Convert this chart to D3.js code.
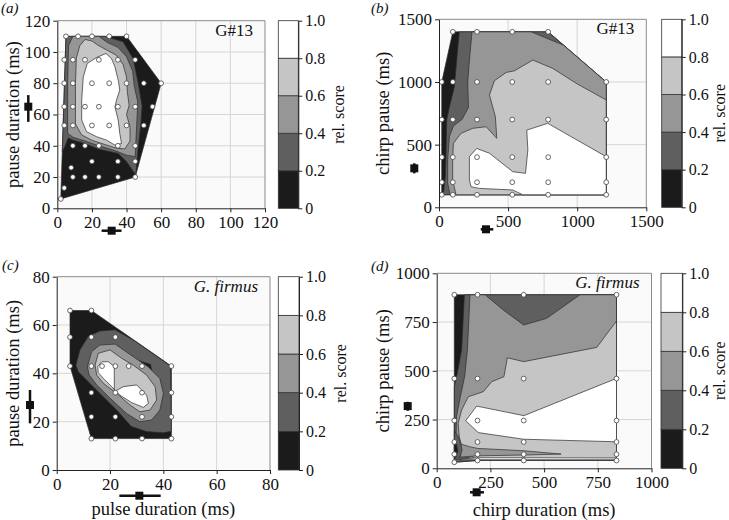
<!DOCTYPE html>
<html>
<head>
<meta charset="utf-8">
<script src="https://cdn.jsdelivr.net/npm/d3@7"></script>
<style>
  body { margin: 0; background: #fff; }
  svg { display: block; }
  svg text { font-family: "Liberation Serif", "Times New Roman", "DejaVu Serif", serif; }
</style>
</head>
<body>
<svg id="fig" width="729" height="520"></svg>
<script>
// ---- shared data ----
const levelColors = ["#1b1b1b", "#5f5f5f", "#969696", "#c5c5c5", "#ffffff"];
const barTicks = [0, 0.2, 0.4, 0.6, 0.8, 1.0];
const barTickLabels = ["0", "0.2", "0.4", "0.6", "0.8", "1.0"];

// ---- panel a : G#13, pulse duration vs pause duration ----
const aTicksX = [0, 20, 40, 60, 80, 100, 120];
const aTicksY = [0, 20, 40, 60, 80, 100, 120];
const aPoints = [
  [5,110],[12,110],[20,110],[30,110],[40,110],
  [4,95],[9,95],[16,95],[24,95],[35,95],[45,95],
  [4,80],[9,80],[20,80],[30,80],[40,80],[50,80],[60,80],
  [4,65],[9,65],[16,65],[24,65],[35,65],[45,65],[55,65],
  [4,53],[9,53],[20,53],[30,53],[40,53],[50,53],
  [9,40],[16,40],[24,40],[35,40],[45,40],
  [20,30],[35,30],[45,30],[8,26],
  [9,20],[16,20],[24,20],[35,20],[45,20],
  [4,13],[2,6]
];
const aBands = [
  {level: 0, pts: [[2,6],[5,110],[40,110],[60,80],[45,20]]},
  {level: 1, pts: [[2.9,36],[3.6,60],[5,110],[27.5,110],[38,106.5],[43.8,95.8],[46.7,80.3],[49,65.4],[48.2,53.2],[46.7,38.3],[45.3,21.5],[40,29.8],[35.2,35.1],[23.6,37.9],[16,41.5],[9.2,43.6],[6.3,45],[4.5,40]]},
  {level: 2, pts: [[6,48],[6,80],[6.5,104],[9,110],[24,110],[29,106],[35,103],[40,97],[43.5,88],[44.5,78],[46.5,68],[46,56],[45.5,45],[45,33],[40,34],[33,37],[24,40],[16,43],[9,45.5]]},
  {level: 3, pts: [[10.5,54],[10.5,80],[11,96],[13,104],[16,108],[20,107],[24,104],[29,101],[34,98],[38,92],[40,84],[40.5,74],[41.5,66],[40,60],[42,52],[42,43],[39,38],[34,38.5],[27,41],[20,43.5],[14,47]]},
  {level: 4, pts: [[15,84],[17.3,92.6],[22.7,96.5],[28.1,99],[31.3,95.8],[33.3,90.5],[35.2,82],[36.1,75.6],[34.2,69.2],[33.3,64.9],[35.2,56.4],[36.1,47.9],[37.1,41.5],[33.3,40.4],[28.5,43.6],[22.7,45.8],[16.9,49],[14.1,56.4],[14.1,69.2]]}
];
const aSongX = [25.6, 31.4, 37.1];   // low, mean, high
const aSongY = [55.3, 65, 72.4];

// ---- panel b : G#13, chirp duration vs chirp pause ----
const bTicksX = [0, 500, 1000, 1500];
const bTicksY = [0, 500, 1000, 1500];
const bPoints = [
  [100,1400],[275,1400],[530,1400],[790,1400],
  [20,1000],[100,1000],[275,1000],[530,1000],[790,1000],[1210,1000],
  [20,700],[100,700],[275,700],[530,700],[790,700],[1210,700],
  [20,400],[100,400],[275,400],[530,400],[790,400],[1210,400],
  [20,200],[100,200],[275,200],[530,200],[790,200],[1210,200],
  [20,100],[100,100],[275,100],[530,100],[790,100],[1210,100]
];
const bBands = [
  {level: 0, pts: [[20,100],[20,1000],[100,1400],[790,1400],[1210,1000],[1210,100]]},
  {level: 1, pts: [[31,100],[46,245],[51,430],[56,696],[75,800],[111,960],[128,1175],[147,1400],[790,1400],[1210,1000],[1210,100]]},
  {level: 2, pts: [[80,100],[63,191],[63,377],[75,563],[104,648],[167,702],[213,797],[208,1000],[220,1175],[239,1400],[667,1400],[900,1294],[1210,1000],[1210,100]]},
  {level: 3, pts: [[123,100],[99,218],[99,377],[104,510],[159,590],[244,630],[341,643],[418,550],[408,723],[365,896],[401,1010],[486,1076],[546,1089],[679,1175],[824,1108],[993,989],[1210,856],[1210,100]]},
  {level: 4, pts: [[220,404],[273,470],[365,431],[534,284],[626,271],[643,457],[635,616],[787,670],[1210,404],[1210,100],[606,100],[534,138],[292,151],[232,164],[220,218]]}
];
const bSongX = [302, 340, 393];
const bSongY = [271, 311, 351];

// ---- panel c : G. firmus, pulse duration vs pause duration ----
const cTicksX = [0, 20, 40, 60, 80];
const cTicksY = [0, 20, 40, 60, 80];
const cPoints = [
  [5,66],[13,66],
  [5,55],[13,55],[22,55],
  [5,43],[13,43],[17,43],[22,43],[27,43],[32,43],[43,43],
  [13,32],[22,32],[32,32],[43,32],
  [13,22],[22,22],[32,22],[43,22],
  [13,13],[22,13],[32,13],[43,13]
];
const cBands = [
  {level: 0, pts: [[5,66],[13,66],[43,43],[43,13],[13,13],[5,43]]},
  {level: 1, pts: [[7.2,43.4],[8.7,49.7],[11.9,55.4],[16.2,57.5],[21.9,58],[28.7,53.8],[35,49],[42.7,43],[43,16],[40,15.4],[33.7,15.9],[28,18],[22.5,24.8],[16.2,31.7],[11.2,37.2],[8.1,40.7]]},
  {level: 0, pts: [[29.1,45.9],[35.2,43.7],[36.2,38.4],[32.5,41.4]]},
  {level: 2, pts: [[11.5,42.7],[13.1,49],[16.2,51.7],[21.9,52.1],[28.7,46.9],[34.3,42.7],[38.7,37.9],[40,31.7],[38.7,24.8],[35.6,20.7],[31.2,20],[26.2,23.4],[20,29.7],[15,35.2],[12.2,39.3]]},
  {level: 3, pts: [[14.4,43.4],[15.6,48.3],[20,49.7],[24.4,46.2],[28.7,43.4],[33.7,39.3],[36.9,34.5],[37.5,29],[35,24.8],[31.2,24.1],[27.5,26.9],[22.5,31.7],[17.5,35.9],[15,39.3]]},
  {level: 4, pts: [[15.4,42.8],[16.9,44.8],[19.4,44.8],[21.6,42.8],[21.6,32.4],[25,34.5],[30,35.2],[33.7,31],[34.4,27.6],[32.5,25.9],[28.1,27.9],[23.7,31],[20.6,34.5],[17.5,37.9],[15.6,40.3]]}
];
const cSongX = [23.5, 31, 39];
const cSongY = [19.3, 26.9, 33.1];

// ---- panel d : G. firmus, chirp duration vs chirp pause ----
const dTicksX = [0, 250, 500, 750, 1000];
const dTicksY = [0, 250, 500, 750, 1000];
const dPoints = [
  [82,890],[190,890],[405,890],[837,890],
  [82,460],[190,460],[405,460],[837,460],
  [82,245],[190,245],[405,245],[837,245],
  [82,135],[190,135],[405,135],[837,135],
  [82,72],[190,72],[405,72],[837,72],
  [82,31],[190,40],[405,40],[837,40]
];
const dBands = [
  {level: 0, pts: [[82,31],[82,890],[837,890],[837,40],[190,40]]},
  {level: 1, pts: [[129,890],[837,890],[837,40],[190,40],[82,31],[96,55],[102,95],[96,140],[82,160],[82,419],[96,487],[116,607]]},
  {level: 2, pts: [[155,890],[225,890],[310,812],[405,735],[512,769],[667,890],[837,890],[837,40],[189,40],[130,60],[100,94],[90,162],[92,265],[110,367],[130,470],[143,607]]},
  {level: 3, pts: [[837,755],[745,620],[405,547],[329,567],[313,470],[256,444],[217,393],[147,367],[116,299],[100,231],[105,162],[120,94],[160,65],[189,40],[837,40]]},
  {level: 4, pts: [[837,461],[406,270],[186,319],[135,244],[194,183],[405,149],[837,136]]},
  {level: 2, pts: [[110,125],[152,111],[191,102],[405,90],[579,73],[405,68],[191,64],[121,58],[100,60]]},
  {level: 1, pts: [[82,190],[100,165],[112,130],[118,95],[110,62],[82,35]]},
  {level: 0, pts: [[82,150],[92,125],[98,90],[92,62],[82,45]]},
  {level: 4, pts: [[105,44],[405,44],[837,44],[837,53],[405,54],[190,54],[120,48]]}
];
const dSongX = [155, 186, 220];
const dSongY = [295, 319, 341];

// ---- layout ----
const svg = d3.select("#fig");
const fmt = d3.format("d");

function styleAxis(a, size) {
  a.attr("font-family", null).attr("font-size", size);
  a.selectAll("path,line").attr("stroke", "#222");
  a.selectAll("text").attr("fill", "#111");
}

function drawPanel(L, D) {
  const x = d3.scaleLinear().domain(d3.extent(D.xTicks)).range([L.left, L.right]);
  const y = d3.scaleLinear().domain(d3.extent(D.yTicks)).range([L.bottom, L.top]);
  const g = svg.append("g");

  g.append("rect")
    .attr("x", L.left).attr("y", L.top)
    .attr("width", L.right - L.left).attr("height", L.bottom - L.top)
    .attr("fill", "#fafafa");

  // grid
  g.append("g").selectAll("line").data(D.xTicks.slice(1, -1)).join("line")
    .attr("x1", d => x(d)).attr("x2", d => x(d))
    .attr("y1", L.top).attr("y2", L.bottom)
    .attr("stroke", "#d6d6d6");
  g.append("g").selectAll("line").data(D.yTicks.slice(1, -1)).join("line")
    .attr("y1", d => y(d)).attr("y2", d => y(d))
    .attr("x1", L.left).attr("x2", L.right)
    .attr("stroke", "#d6d6d6");

  // contour bands
  const ring = d3.line().x(d => x(d[0])).y(d => y(d[1])).curve(d3.curveLinearClosed);
  g.append("g").selectAll("path").data(D.bands).join("path")
    .attr("d", d => ring(d.pts))
    .attr("fill", d => levelColors[d.level])
    .attr("stroke", "#2b2b2b")
    .attr("stroke-width", 0.7)
    .attr("stroke-linejoin", "round");

  // tested stimuli
  g.append("g").selectAll("circle").data(D.points).join("circle")
    .attr("cx", d => x(d[0])).attr("cy", d => y(d[1]))
    .attr("r", 2.4)
    .attr("fill", "#fff").attr("stroke", "#444").attr("stroke-width", 0.8);

  // frame top/right
  g.append("path")
    .attr("d", `M${L.left},${L.top}H${L.right}V${L.bottom}`)
    .attr("fill", "none").attr("stroke", "#8a8a8a");

  // axes
  const xa = g.append("g").attr("transform", `translate(0,${L.bottom})`)
    .call(d3.axisBottom(x).tickValues(D.xTicks).tickFormat(fmt).tickSize(4).tickSizeOuter(0).tickPadding(4));
  const ya = g.append("g").attr("transform", `translate(${L.left},0)`)
    .call(d3.axisLeft(y).tickValues(D.yTicks).tickFormat(fmt).tickSize(4).tickSizeOuter(0).tickPadding(3));
  styleAxis(xa, 17);
  styleAxis(ya, 17);

  // natural song markers
  g.append("line")
    .attr("x1", x(D.songX[0])).attr("x2", x(D.songX[2]))
    .attr("y1", L.songXy).attr("y2", L.songXy)
    .attr("stroke", "#111").attr("stroke-width", 2.5);
  g.append("rect")
    .attr("x", x(D.songX[1]) - 4).attr("y", L.songXy - 4)
    .attr("width", 8).attr("height", 8).attr("fill", "#111");
  g.append("line")
    .attr("y1", y(D.songY[0])).attr("y2", y(D.songY[2]))
    .attr("x1", L.songYx).attr("x2", L.songYx)
    .attr("stroke", "#111").attr("stroke-width", 2.5);
  g.append("rect")
    .attr("x", L.songYx - 4).attr("y", y(D.songY[1]) - 4)
    .attr("width", 8).attr("height", 8).attr("fill", "#111");

  // titles
  g.append("text")
    .attr("transform", `translate(${L.yTitleX},${(L.top + L.bottom) / 2}) rotate(-90)`)
    .attr("text-anchor", "middle").attr("dominant-baseline", "central")
    .attr("font-size", 18.5).attr("fill", "#111")
    .text(D.yTitle);
  if (D.xTitle) {
    g.append("text")
      .attr("x", (L.left + L.right) / 2).attr("y", L.xTitleY)
      .attr("text-anchor", "middle")
      .attr("font-size", 18.5).attr("fill", "#111")
      .text(D.xTitle);
  }
  g.append("text")
    .attr("x", L.right - 12).attr("y", L.top + 15)
    .attr("text-anchor", "end")
    .attr("font-size", 17).attr("fill", "#111")
    .attr("font-style", D.speciesItalic ? "italic" : "normal")
    .text(D.species);
  g.append("text")
    .attr("x", L.tagX).attr("y", L.tagY)
    .attr("font-size", 15).attr("font-style", "italic").attr("fill", "#111")
    .text(D.tag);

  // colour bar
  const cy = d3.scaleLinear().domain([0, 1]).range([L.bottom, L.top]);
  const cb = g.append("g");
  cb.selectAll("rect").data(levelColors).join("rect")
    .attr("x", L.barX).attr("width", L.barW)
    .attr("y", (c, i) => cy(barTicks[i + 1]))
    .attr("height", (c, i) => cy(barTicks[i]) - cy(barTicks[i + 1]))
    .attr("fill", c => c)
    .attr("stroke", "#333").attr("stroke-width", 0.8);
  const ca = cb.append("g").attr("transform", `translate(${L.barX + L.barW},0)`)
    .call(d3.axisRight(cy).tickValues(barTicks).tickFormat((d, i) => barTickLabels[i])
      .tickSize(4).tickSizeOuter(0).tickPadding(3));
  styleAxis(ca, 16);
  cb.append("text")
    .attr("transform", `translate(${L.relX},${(L.top + L.bottom) / 2}) rotate(-90)`)
    .attr("text-anchor", "middle").attr("dominant-baseline", "central")
    .attr("font-size", 16).attr("fill", "#111")
    .text("rel. score");
}

drawPanel(
  {left: 57.3, right: 265, top: 20.7, bottom: 208.3, barX: 278.3, barW: 20, relX: 338,
   yTitleX: 13, songYx: 28.3, songXy: 230.7, tagX: 1, tagY: 13},
  {xTicks: aTicksX, yTicks: aTicksY, points: aPoints, bands: aBands, songX: aSongX, songY: aSongY,
   yTitle: "pause duration (ms)", species: "G#13", speciesItalic: false, tag: "(a)"});

drawPanel(
  {left: 439, right: 646.3, top: 19.3, bottom: 207.3, barX: 661.7, barW: 20, relX: 719.5,
   yTitleX: 383, songYx: 414.3, songXy: 229.3, tagX: 371, tagY: 13},
  {xTicks: bTicksX, yTicks: bTicksY, points: bPoints, bands: bBands, songX: bSongX, songY: bSongY,
   yTitle: "chirp pause (ms)", species: "G#13", speciesItalic: false, tag: "(b)"});

drawPanel(
  {left: 56.7, right: 270, top: 276.7, bottom: 470, barX: 278.3, barW: 20.7, relX: 340,
   yTitleX: 13, songYx: 30, songXy: 495.7, xTitleY: 515, tagX: 2, tagY: 270},
  {xTicks: cTicksX, yTicks: cTicksY, points: cPoints, bands: cBands, songX: cSongX, songY: cSongY,
   yTitle: "pause duration (ms)", xTitle: "pulse duration (ms)", species: "G. firmus", speciesItalic: true, tag: "(c)"});

drawPanel(
  {left: 436.7, right: 651.5, top: 273.3, bottom: 468.3, barX: 661, barW: 21.3, relX: 719.5,
   yTitleX: 383, songYx: 407.7, songXy: 492.3, xTitleY: 516, tagX: 371, tagY: 271},
  {xTicks: dTicksX, yTicks: dTicksY, points: dPoints, bands: dBands, songX: dSongX, songY: dSongY,
   yTitle: "chirp pause (ms)", xTitle: "chirp duration (ms)", species: "G. firmus", speciesItalic: true, tag: "(d)"});
</script>
</body>
</html>
